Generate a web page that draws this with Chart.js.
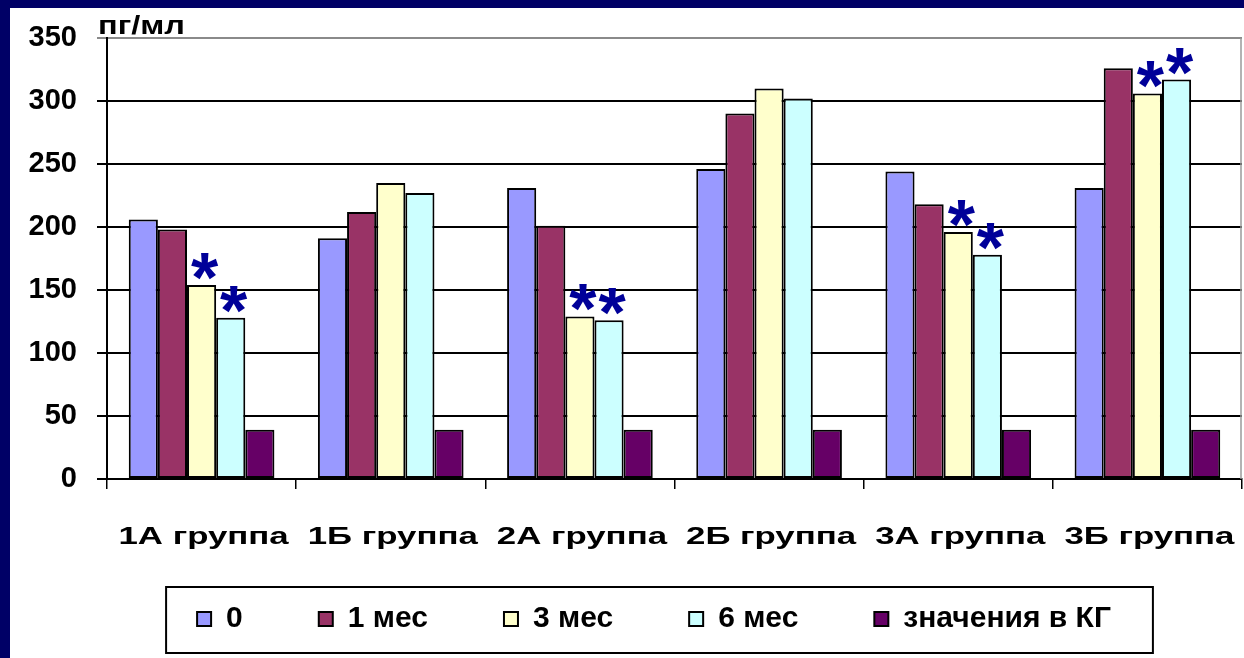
<!DOCTYPE html>
<html lang="ru">
<head>
<meta charset="utf-8">
<title>пг/мл по группам</title>
<script src="https://cdn.jsdelivr.net/npm/chart.js@4/dist/chart.umd.min.js"></script>
<style>
  * { margin: 0; padding: 0; box-sizing: border-box; }
  body { width: 1244px; height: 658px; background: #000066; overflow: hidden; }
  .frame { position: absolute; left: 10px; top: 8px; width: 1234px; height: 650px; background: #fff; }
</style>
</head>
<body>
<div class="frame"><canvas id="chart"></canvas></div>
<script>
// categories and series
const groups = ['1А группа', '1Б группа', '2А группа', '2Б группа', '3А группа', '3Б группа'];
const seriesNames = ['0', '1 мес', '3 мес', '6 мес', 'значения в КГ'];
const month0 = [206, 191, 231, 246, 244, 231];
const month1 = [198, 212, 201, 290, 218, 326];
const month3 = [154, 235, 129, 310, 196, 306];
const month6 = [128, 227, 126, 302, 178, 317];
const control = [39, 39, 39, 39, 39, 39];
const yTicks = [0, 50, 100, 150, 200, 250, 300, 350];
// asterisks (significant difference) over 3 мес and 6 мес bars
const star3 = [true, false, true, false, true, true];
const star6 = [true, false, true, false, true, true];

const colors = ['#9999ff', '#993366', '#ffffcc', '#ccffff', '#660066'];
const FONT = 'Arial, "Liberation Sans", sans-serif';
const LEG_PAD = 76;
const LEG_FONT = 30;

// stretched text helper (the original labels are drawn wide)
function wideText(ctx, text, x, y, sx, align) {
  ctx.save();
  ctx.translate(x, y);
  ctx.scale(sx, 1);
  ctx.textAlign = align;
  ctx.fillText(text, 0, 0);
  ctx.restore();
}

const extras = {
  id: 'extras',
  afterLayout(chart) {
    // move the legend a bit right and up, like in the slide
    const lg = chart.legend;
    lg.left += 56;
    lg.top -= 26;
    lg.bottom = lg.top + LEG_PAD + 60;
  },
  afterDraw(chart) {
    const ctx = chart.ctx;
    const area = chart.chartArea;
    const x = chart.scales.x;

    ctx.save();
    // right edge of plot
    ctx.strokeStyle = '#9a9a9a';
    ctx.lineWidth = 1.5;
    ctx.beginPath();
    ctx.moveTo(area.right - 1, area.top);
    ctx.lineTo(area.right - 1, area.bottom);
    ctx.stroke();

    // unit label
    ctx.fillStyle = '#000';
    ctx.font = 'bold 26px ' + FONT;
    ctx.textBaseline = 'alphabetic';
    wideText(ctx, 'пг/мл', 88, 26, 1.25, 'left');

    // category labels
    ctx.font = 'bold 24px ' + FONT;
    ctx.textBaseline = 'middle';
    groups.forEach((g, i) => {
      wideText(ctx, g, x.getPixelForValue(i) + 2, x.top + 58, 1.45, 'center');
    });

    // asterisks
    ctx.font = 'bold 70px ' + FONT;
    ctx.fillStyle = '#000099';
    ctx.textBaseline = 'alphabetic';
    ctx.textAlign = 'center';
    const m = ctx.measureText('*');
    const desc = m.actualBoundingBoxDescent;
    [[2, star3], [3, star6]].forEach(([di, flags]) => {
      const meta = chart.getDatasetMeta(di);
      flags.forEach((on, i) => {
        if (!on) return;
        const bar = meta.data[i];
        ctx.fillText('*', bar.x + 3, bar.y - 5 - desc);
      });
    });

    // legend frame
    const lg = chart.legend;
    const lw = lg.lineWidths[0];
    const x0 = (lg.left + LEG_PAD + lg.right - lw) / 2;
    const x1 = x0 + lw - LEG_PAD;
    const cy = lg.top + LEG_PAD + LEG_FONT / 2;
    ctx.strokeStyle = '#000';
    ctx.lineWidth = 2;
    ctx.strokeRect(x0 - 31, cy - 32, (x1 + 42) - (x0 - 31), 66);
    ctx.restore();
  }
};

const datasetsData = [month0, month1, month3, month6, control];

new Chart(document.getElementById('chart'), {
  type: 'bar',
  data: {
    labels: groups,
    datasets: datasetsData.map((d, i) => ({
      label: seriesNames[i],
      data: d,
      backgroundColor: colors[i],
      borderColor: '#000',
      borderWidth: 2,
      borderSkipped: false,
      categoryPercentage: 0.77,
      barPercentage: 1.0
    }))
  },
  options: {
    responsive: true,
    maintainAspectRatio: false,
    animation: false,
    layout: { padding: { top: 30, right: 2, left: 0, bottom: 0 } },
    plugins: {
      tooltip: { enabled: false },
      legend: {
        position: 'bottom',
        maxHeight: 104,
        labels: {
          color: '#000',
          font: { family: FONT, size: LEG_FONT, weight: 'bold' },
          boxWidth: 14,
          boxHeight: 14,
          padding: LEG_PAD
        }
      }
    },
    scales: {
      x: {
        grid: { drawOnChartArea: false, color: '#000', lineWidth: 1.5, tickLength: 10 },
        border: { color: '#000', width: 2 },
        ticks: { display: false },
        afterFit: s => { s.height = 75; }
      },
      y: {
        min: 0,
        max: 350,
        afterBuildTicks: s => { s.ticks = yTicks.map(v => ({ value: v })); },
        grid: {
          color: c => (c.tick && c.tick.value === 350 ? '#8a8a8a' : '#000'),
          lineWidth: 2,
          tickLength: 10
        },
        border: { color: '#000', width: 2 },
        ticks: {
          color: '#000',
          padding: 20,
          font: { family: FONT, size: 29, weight: 'bold' }
        },
        afterFit: s => { s.width = 97; s.paddingTop = 0; s.paddingBottom = 0; }
      }
    }
  },
  plugins: [extras]
});
</script>
</body>
</html>
